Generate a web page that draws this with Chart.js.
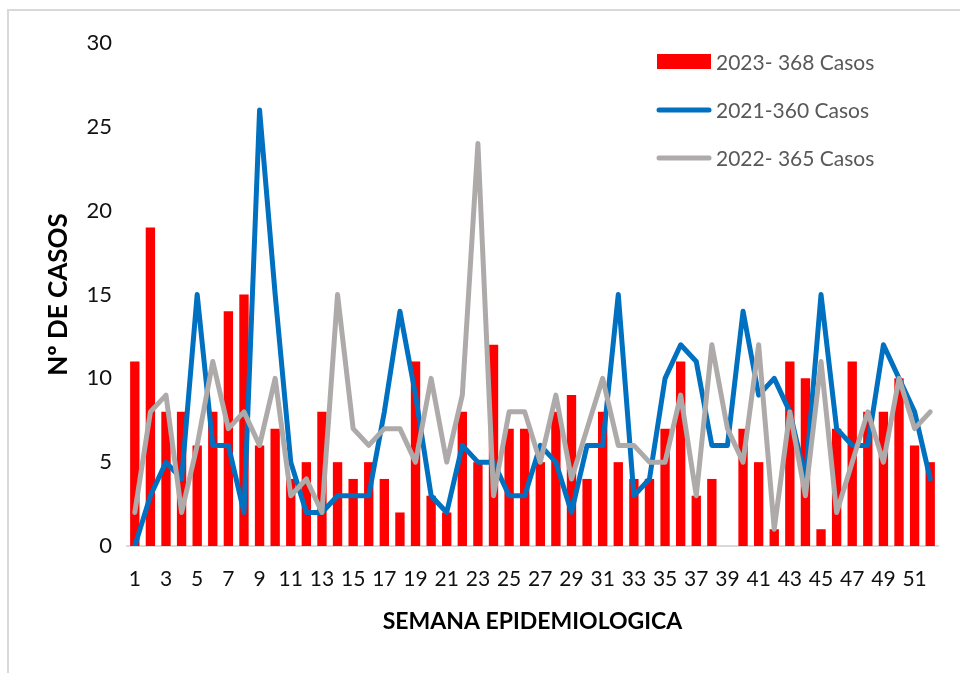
<!DOCTYPE html>
<html>
<head>
<meta charset="utf-8">
<script src="https://cdn.jsdelivr.net/npm/chart.js@4.4.1/dist/chart.umd.min.js"></script>
<style>
  html, body { margin: 0; padding: 0; background: #ffffff; overflow: hidden; }
  #frame { position: absolute; left: 7px; top: 9px; width: 1200px; height: 1000px;
           border-left: 2px solid #d9d9d9; border-top: 2px solid #d9d9d9; }
  #c { position: absolute; left: 0; top: 0; }
</style>
</head>
<body>
<div id="frame"></div>
<canvas id="c" width="960" height="673"></canvas>
<script>
// ---- data ----
const weeks = ["1","2","3","4","5","6","7","8","9","10","11","12","13","14","15","16","17","18","19","20",
  "21","22","23","24","25","26","27","28","29","30","31","32","33","34","35","36","37","38","39","40",
  "41","42","43","44","45","46","47","48","49","50","51","52"];
const cases2023 = [11,19,8,8,6,8,14,15,6,7, 4,5,8,5,4,5,4,2,11,3, 2,8,5,12,7,7,5,8,9,4,
  8,5,4,4,7,11,3,4,0,7, 5,1,11,10,1,7,11,8,8,10, 6,5];
const cases2021 = [0,3,5,4,15,6,6,2,26,15, 5,2,2,3,3,3,8,14,9,3, 2,6,5,5,3,3,6,5,2,6,
  6,15,3,4,10,12,11,6,6,14, 9,10,8,4,15,7,6,6,12,10, 8,4];
const cases2022 = [2,8,9,2,6,11,7,8,6,10, 3,4,2,15,7,6,7,7,5,10, 5,9,24,3,8,8,5,9,4,7,
  10,6,6,5,5,9,3,12,7,5, 12,1,8,3,11,2,5,8,5,10, 7,8];
const seriesLabels = ["2023- 368 Casos", "2021-360 Casos", "2022- 365 Casos"];
const yTicks = [0,5,10,15,20,25,30];
const yTitle = "Nº DE CASOS";
const xTitle = "SEMANA EPIDEMIOLOGICA";

const RED = "#ff0000", BLUE = "#0070c0", GRAY = "#aeaaaa";

const legendPlugin = {
  id: 'sideLegend',
  afterDatasetsDraw(chart) {
    const ctx = chart.ctx;
    const ds = chart.data.datasets;
    const x0 = 657, w = 54, textX = 716;
    const ys = [62, 110, 158];
    ctx.save();
    ctx.font = '21px Lato';
    ctx.textBaseline = 'middle';
    ctx.textAlign = 'left';
    ds.forEach((d, i) => {
      const y = ys[i];
      if (d.type === 'bar') {
        ctx.fillStyle = d.backgroundColor;
        ctx.fillRect(x0, y - 8, w, 15);
      } else {
        ctx.strokeStyle = d.borderColor;
        ctx.lineWidth = 5;
        ctx.lineCap = 'round';
        ctx.beginPath();
        ctx.moveTo(x0 + 2, y);
        ctx.lineTo(x0 + w - 2, y);
        ctx.stroke();
      }
      ctx.fillStyle = '#595959';
      ctx.fillText(d.label, textX, y + 1);
    });
    ctx.restore();
  }
};

new Chart(document.getElementById('c'), {
  data: {
    labels: weeks,
    datasets: [
      { type: 'bar', label: seriesLabels[0], data: cases2023, backgroundColor: RED,
        borderWidth: 0, barPercentage: 0.6, categoryPercentage: 1.0, order: 3 },
      { type: 'line', label: seriesLabels[1], data: cases2021, borderColor: BLUE, backgroundColor: BLUE,
        borderWidth: 5, pointRadius: 0, tension: 0, borderJoinStyle: 'round', borderCapStyle: 'round', order: 2 },
      { type: 'line', label: seriesLabels[2], data: cases2022, borderColor: GRAY, backgroundColor: GRAY,
        borderWidth: 5, pointRadius: 0, tension: 0, borderJoinStyle: 'round', borderCapStyle: 'round', order: 1 }
    ]
  },
  options: {
    responsive: false,
    animation: false,
    events: [],
    layout: { padding: { left: 0, right: 22, top: 43, bottom: 0 } },
    plugins: { legend: { display: false }, tooltip: { enabled: false } },
    scales: {
      x: {
        type: 'category',
        offset: true,
        grid: { display: false, drawTicks: false },
        border: { display: true, color: '#d9d9d9', width: 2 },
        ticks: {
          autoSkip: false, maxRotation: 0, padding: 21,
          color: '#111111', font: { family: 'Lato', size: 21 },
          callback: function (v, i) { return i % 2 === 0 ? this.getLabelForValue(v) : ''; }
        },
        title: { display: true, text: xTitle, color: '#000000',
          font: { family: 'Lato', size: 23, weight: 'bold' }, padding: { top: 0, bottom: 38 } },
        afterFit: (s) => { s.height = 127; }
      },
      y: {
        min: 0, max: 30,
        afterBuildTicks: (s) => { s.ticks = yTicks.map(v => ({ value: v })); },
        grid: { display: false, drawTicks: false },
        border: { display: false },
        ticks: { padding: 15, color: '#111111', font: { family: 'Lato', size: 22 } },
        title: { display: true, text: yTitle, color: '#000000',
          font: { family: 'Lato', size: 26, weight: 'bold' }, padding: { top: 43, bottom: 0 } },
        afterFit: (s) => { s.width = 127; }
      }
    }
  },
  plugins: [legendPlugin]
});
</script>
</body>
</html>
